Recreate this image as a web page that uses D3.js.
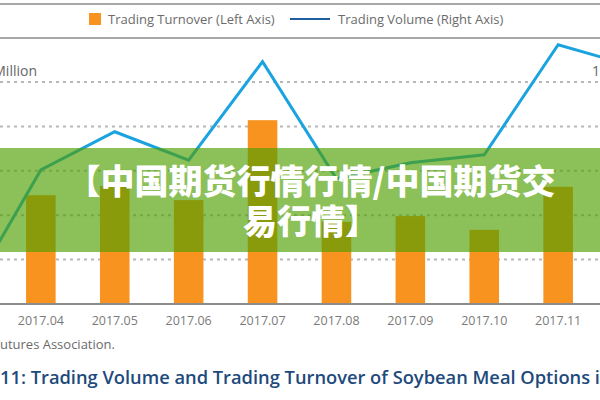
<!DOCTYPE html>
<html>
<head>
<meta charset="utf-8">
<script src="https://cdn.jsdelivr.net/npm/d3@7"></script>
<style>
  html, body { margin: 0; padding: 0; background: #fff; }
  svg { display: block; }
</style>
</head>
<body>
<div id="chart"></div>
<script>
// --- Data ---
const months = ["2017.03", "2017.04", "2017.05", "2017.06", "2017.07", "2017.08", "2017.09", "2017.10", "2017.11", "2017.12"];
const turnover = [5, 245, 266, 234, 414, 185, 198, 167, 264, 240];   // left axis, million
const volume = [7, 151, 194, 162, 273, 141, 159, 168, 292, 268];     // right axis
const leftTicks = [0, 100, 200, 300, 400, 500];
const rightTicks = [0, 50, 100, 150, 200, 250];

const width = 600, height = 400;
const plotTop = 82, plotBottom = 304;

const svg = d3.select("#chart").append("svg")
    .attr("width", width)
    .attr("height", height)
    .attr("viewBox", [0, 0, width, height]);

// scales - the chart is a crop, so the range runs past both edges
const x = d3.scaleBand()
    .domain(months)
    .range([-70, 669])
    .paddingInner(0.6)
    .paddingOuter(0.3);

const yLeft = d3.scaleLinear().domain([0, 500]).range([plotBottom, plotTop]);
const yRight = d3.scaleLinear().domain([0, 250]).range([plotBottom, plotTop]);

// top rules
svg.append("line").attr("x1", 0).attr("x2", width).attr("y1", 4).attr("y2", 4)
    .attr("stroke", "#a8a8a8").attr("stroke-width", 2);
svg.append("line").attr("x1", 0).attr("x2", width).attr("y1", 38).attr("y2", 38)
    .attr("stroke", "#a8a8a8").attr("stroke-width", 2);

// legend
const legend = svg.append("g").attr("font-family", "'Open Sans', sans-serif")
    .attr("font-size", 13).attr("fill", "#6b6b6b");
legend.append("rect").attr("x", 89).attr("y", 13).attr("width", 12).attr("height", 12).attr("fill", "#f7931e");
legend.append("text").attr("x", 108).attr("y", 24).text("Trading Turnover (Left Axis)");
legend.append("line").attr("x1", 290).attr("x2", 330).attr("y1", 19).attr("y2", 19)
    .attr("stroke", "#1f5f9e").attr("stroke-width", 2);
legend.append("text").attr("x", 338).attr("y", 24).text("Trading Volume (Right Axis)");

// gridlines (dotted)
svg.append("g")
    .selectAll("line")
    .data(leftTicks.filter(d => d > 0))
    .join("line")
    .attr("x1", 0).attr("x2", width)
    .attr("y1", d => yLeft(d)).attr("y2", d => yLeft(d))
    .attr("stroke", "#b8b8b8")
    .attr("stroke-width", 2)
    .attr("stroke-dasharray", "3,4");

// axis unit labels (clipped at the edges)
svg.append("text").attr("x", 37).attr("y", yLeft(500) - 6)
    .attr("text-anchor", "end")
    .attr("font-family", "'Open Sans', sans-serif").attr("font-size", 14).attr("fill", "#666")
    .text("RMB Million");
svg.append("text").attr("x", 592).attr("y", yRight(250) - 6)
    .attr("font-family", "'Open Sans', sans-serif").attr("font-size", 14).attr("fill", "#666")
    .text("10,000 Contracts");

// bars
svg.append("g")
    .selectAll("rect")
    .data(months)
    .join("rect")
    .attr("x", d => x(d))
    .attr("width", x.bandwidth())
    .attr("y", (d, i) => yLeft(turnover[i]))
    .attr("height", (d, i) => yLeft(0) - yLeft(turnover[i]))
    .attr("fill", "#f7931e");

// x axis
const xAxis = svg.append("g")
    .attr("transform", `translate(0,${plotBottom})`)
    .call(d3.axisBottom(x).tickSize(0).tickPadding(12));
xAxis.select(".domain").remove();
xAxis.append("line").attr("x1", 0).attr("x2", width)
    .attr("stroke", "#8c8c8c").attr("stroke-width", 2);
xAxis.selectAll("text")
    .attr("font-family", "'Open Sans', sans-serif")
    .attr("font-size", 12.5)
    .attr("fill", "#7a7a7a");

// volume line
const line = d3.line()
    .x((d, i) => x(months[i]) + x.bandwidth() / 2)
    .y(d => yRight(d));

svg.append("path")
    .datum(volume)
    .attr("d", line)
    .attr("fill", "none")
    .attr("stroke", "#1ba3df")
    .attr("stroke-width", 3)
    .attr("stroke-linejoin", "miter");

// source + caption
svg.append("text").attr("x", 115).attr("y", 349)
    .attr("text-anchor", "end")
    .attr("font-family", "'Open Sans', sans-serif").attr("font-size", 13).attr("fill", "#6b6b6b")
    .text("Source: China Futures Association.");

svg.append("text").attr("x", 0).attr("y", 384)
    .attr("font-family", "'Open Sans', sans-serif").attr("font-size", 18.3)
    .attr("font-weight", 600).attr("fill", "#1e4a7c")
    .text("11: Trading Volume and Trading Turnover of Soybean Meal Options in 2017");

// green overlay banner
svg.append("rect")
    .attr("x", 0).attr("y", 148).attr("width", width).attr("height", 104)
    .attr("fill", "#4e9e00").attr("fill-opacity", 0.65);

const banner = svg.append("text")
    .attr("text-anchor", "middle")
    .attr("font-family", "'Noto Sans CJK SC', sans-serif")
    .attr("font-weight", 900)
    .attr("font-size", 34)
    .attr("fill", "#fff");
banner.append("tspan").attr("x", 311).attr("y", 194).text("【中国期货行情行情/中国期货交");
banner.append("tspan").attr("x", 311).attr("y", 234).text("易行情】");
</script>
</body>
</html>
